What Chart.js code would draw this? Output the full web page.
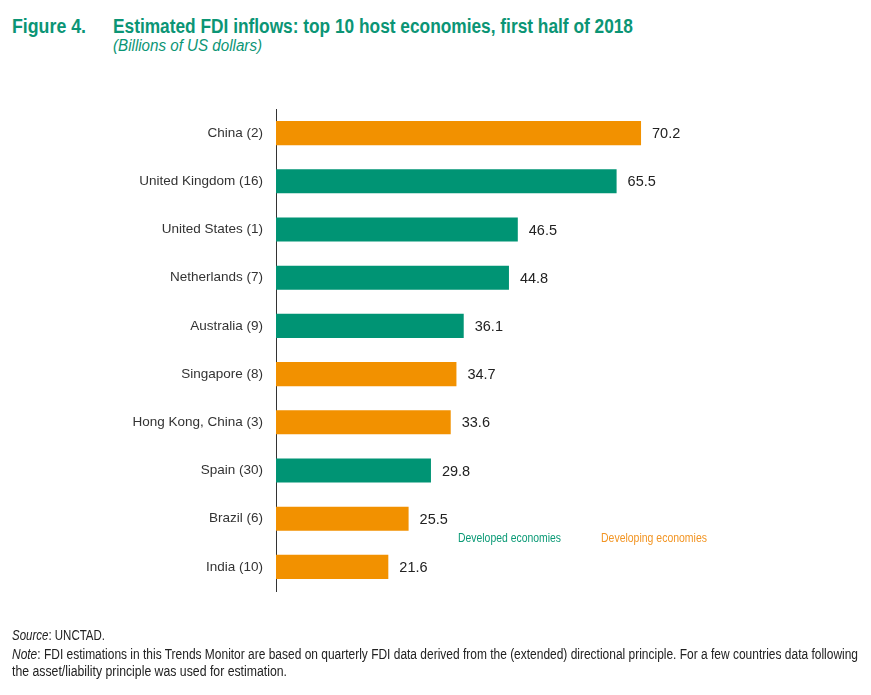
<!DOCTYPE html>
<html>
<head>
<meta charset="utf-8">
<script src="https://cdn.jsdelivr.net/npm/chart.js@4.4.0/dist/chart.umd.min.js"></script>
<style>
  body { margin: 0; background: #fff; }
  #wrap { position: relative; width: 871px; height: 695px; overflow: hidden; font-family: "Liberation Sans", sans-serif; }
  #chart { position: absolute; left: 0; top: 0; }
  .t { position: absolute; white-space: nowrap; transform-origin: 0 50%; }
  #fig { left: 12px; top: 15px; font-size: 20px; font-weight: bold; color: #0b9575; }
  #title { left: 113px; top: 15px; font-size: 20px; font-weight: bold; color: #0b9575; }
  #sub { left: 113px; top: 37px; font-size: 16px; font-style: italic; color: #0b9575; }
  .leg { font-size: 13px; top: 530px; }
  #legDev { left: 458px; color: #0b9a76; }
  #legDvg { left: 601px; color: #f29524; }
  .foot { left: 12px; font-size: 14px; color: #222; }
  #src { top: 627px; }
  #note1 { top: 646px; }
  #note2 { top: 663px; }
</style>
</head>
<body>
<div id="wrap">
  <div class="t" id="fig" data-w="74">Figure 4.</div>
  <div class="t" id="title" data-w="520">Estimated FDI inflows: top 10 host economies, first half of 2018</div>
  <div class="t" id="sub" data-w="149">(Billions of US dollars)</div>
  <canvas id="chart" width="871" height="695"></canvas>
  <div class="t leg" id="legDev" data-w="103">Developed economies</div>
  <div class="t leg" id="legDvg" data-w="106">Developing economies</div>
  <div class="t foot" id="src" data-w="93"><i>Source</i>: UNCTAD.</div>
  <div class="t foot" id="note1" data-w="846"><i>Note</i>: FDI estimations in this Trends Monitor are based on quarterly FDI data derived from the (extended) directional principle. For a few countries data following</div>
  <div class="t foot" id="note2" data-w="275">the asset/liability principle was used for estimation.</div>
</div>
<script>
var economies = ["China (2)", "United Kingdom (16)", "United States (1)", "Netherlands (7)", "Australia (9)",
  "Singapore (8)", "Hong Kong, China (3)", "Spain (30)", "Brazil (6)", "India (10)"];
var inflows = [70.2, 65.5, 46.5, 44.8, 36.1, 34.7, 33.6, 29.8, 25.5, 21.6];
var groups = ["developing", "developed", "developed", "developed", "developed",
  "developing", "developing", "developed", "developing", "developing"];

var groupColors = { developed: "#009474", developing: "#f29100" };

// squeeze the text blocks to the condensed widths of the original
document.querySelectorAll("[data-w]").forEach(function(el) {
  var w = el.getBoundingClientRect().width;
  el.style.transform = "scaleX(" + (parseFloat(el.dataset.w) / w) + ")";
});

var valueLabels = {
  id: "valueLabels",
  afterDatasetsDraw: function(chart) {
    var ctx = chart.ctx;
    var meta = chart.getDatasetMeta(0);
    ctx.save();
    ctx.font = "14.5px 'Liberation Sans', sans-serif";
    ctx.fillStyle = "#222";
    ctx.textBaseline = "middle";
    ctx.textAlign = "left";
    meta.data.forEach(function(bar, i) {
      ctx.fillText(inflows[i].toFixed(1), bar.x + 11, bar.y + 1);
    });
    ctx.restore();
  }
};

new Chart(document.getElementById("chart"), {
  type: "bar",
  data: {
    labels: economies,
    datasets: [{
      data: inflows,
      backgroundColor: groups.map(function(g) { return groupColors[g]; }),
      barPercentage: 0.5,
      categoryPercentage: 1.0
    }]
  },
  options: {
    indexAxis: "y",
    responsive: false,
    animation: false,
    layout: { padding: { top: 109, bottom: 104, left: 0, right: 179 } },
    plugins: { legend: { display: false }, tooltip: { enabled: false } },
    scales: {
      x: { display: false, min: 0, max: 80 },
      y: {
        afterFit: function(scale) { scale.width = 276; },
        grid: { display: false, drawTicks: false },
        border: { display: true, color: "#333", width: 1 },
        ticks: { color: "#333", padding: 13, font: { family: "'Liberation Sans', sans-serif", size: 13.5 } }
      }
    }
  },
  plugins: [valueLabels]
});
</script>
</body>
</html>
